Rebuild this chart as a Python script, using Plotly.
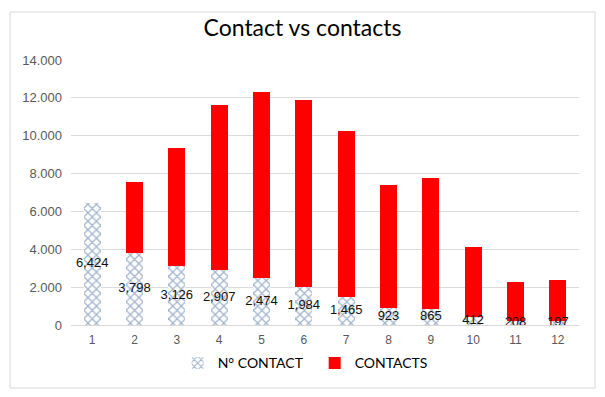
import plotly.graph_objects as go

categories = ["1", "2", "3", "4", "5", "6", "7", "8", "9", "10", "11", "12"]
n_contact = [6424, 3798, 3126, 2907, 2474, 1984, 1465, 923, 865, 412, 208, 197]
contacts = [0, 3780, 6240, 8710, 9860, 9890, 8800, 6480, 6910, 3690, 2060, 2160]
y_ticks = [0, 2000, 4000, 6000, 8000, 10000, 12000, 14000]

labels = [f"{v:,}" for v in n_contact]
label_y = [v / 2 for v in n_contact]

fig = go.Figure()
fig.add_trace(go.Bar(
    x=categories, y=n_contact, name="N° CONTACT",
    marker=dict(color="white", line=dict(width=0),
                pattern=dict(shape="x", fgcolor="#44699a", bgcolor="white", size=6, solidity=0.38)),
))
fig.add_trace(go.Bar(
    x=categories, y=contacts, name="CONTACTS",
    marker=dict(color="#ff0000", line=dict(width=0)),
))
fig.add_trace(go.Scatter(
    x=categories, y=label_y, mode="text", text=labels, textposition="middle center",
    textfont=dict(family="Liberation Sans", size=13, color="#111111"),
    showlegend=False, hoverinfo="skip", cliponaxis=False,
))

fig.update_layout(
    width=605, height=397,
    barmode="stack", bargap=0.6,
    separators=",.",
    paper_bgcolor="white", plot_bgcolor="white",
    margin=dict(l=71, r=26, t=60, b=72),
    title=dict(text="Contact vs contacts", x=0.5, xanchor="center", y=0.93, yanchor="middle",
               font=dict(family="Lato", size=23, color="#000000")),
    showlegend=True,
    legend=dict(orientation="h", x=0.21, xanchor="left", y=-0.145, yanchor="middle",
                font=dict(family="Lato", size=14, color="#000000"),
                entrywidth=92, entrywidthmode="pixels", traceorder="normal"),
    shapes=[dict(type="rect", xref="paper", yref="paper", x0=-0.12, x1=1.0315, y0=-0.2377, y1=1.181,
                 line=dict(color="#d9d9d9", width=1), fillcolor="rgba(0,0,0,0)", layer="below")],
)
fig.update_yaxes(range=[0, 14000], tickvals=y_ticks, tickformat=",d",
                 showgrid=True, gridcolor="#dcdcdc", gridwidth=1, zeroline=False,
                 tickfont=dict(family="Liberation Sans", size=13, color="#595959"),
                 ticklabelstandoff=8)
fig.update_xaxes(range=[-0.5, len(categories) - 0.5],
                 showline=True, linecolor="#d9d9d9", linewidth=1,
                 tickfont=dict(family="Liberation Sans", size=12, color="#595959"),
                 ticklabelstandoff=4)

fig.write_html("out.html", config={"displayModeBar": False},
               post_script="document.body.style.margin='0';")
